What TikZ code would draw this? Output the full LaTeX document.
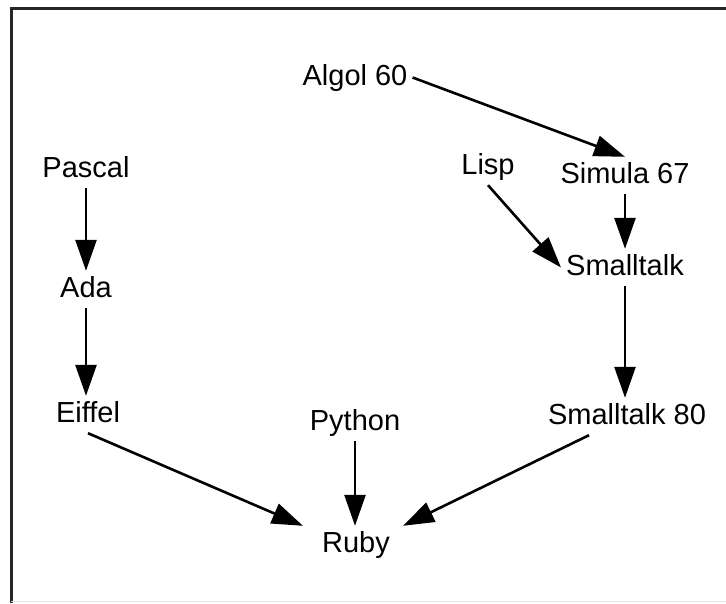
\documentclass[tikz,border=0pt]{standalone}
\usepackage{fontspec}
\setmainfont{Liberation Sans}
\usetikzlibrary{arrows.meta}

\begin{document}
\begin{tikzpicture}[x=1pt, y=-1pt,
    lang/.style={font=\fontsize{29}{34}\selectfont, text height=21pt, text depth=6pt, inner sep=5pt, anchor=base},
    link/.style={-{Triangle[length=31pt,width=21pt]}, line width=2.6pt}]

    \useasboundingbox (0,0) rectangle (726,603);

    % === frame ===
    \draw[line width=3pt, black!85] (726,8) -- (11,8) -- (11,603);
    \draw[line width=1pt, black!10] (11,601) -- (726,601);

    % === languages ===
    \node[lang] (algol) at (355,85) {Algol 60};
    \node[lang] (pascal) at (86,177) {Pascal};
    \node[lang] (lisp) at (488,174) {Lisp};
    \node[lang] (simula) at (625,183) {Simula 67};
    \node[lang] (ada) at (86,297) {Ada};
    \node[lang] (smalltalk) at (625,275) {Smalltalk};
    \node[lang] (eiffel) at (88,422) {Eiffel};
    \node[lang] (python) at (355,430) {Python};
    \node[lang] (st80) at (627,424) {Smalltalk 80};
    \node[lang] (ruby) at (356,552) {Ruby};

    % === influences ===
    \draw[link] (algol.east) -- (simula.north);
    \draw[link] (pascal.south) -- (ada.north);
    \draw[link] (ada.south) -- (eiffel.north -| ada.south);
    \draw[link] (lisp.south) -- (smalltalk.west);
    \draw[link] (simula.south) -- (smalltalk.north);
    \draw[link] (smalltalk.south) -- (st80.north -| smalltalk.south);
    \draw[link] (eiffel.south) -- ([xshift=-14pt]ruby.north west);
    \draw[link] (python.south) -- (ruby.north -| python.south);
    \draw[link] ([xshift=-38pt]st80.south) -- ([xshift=8pt]ruby.north east);
\end{tikzpicture}
\end{document}
